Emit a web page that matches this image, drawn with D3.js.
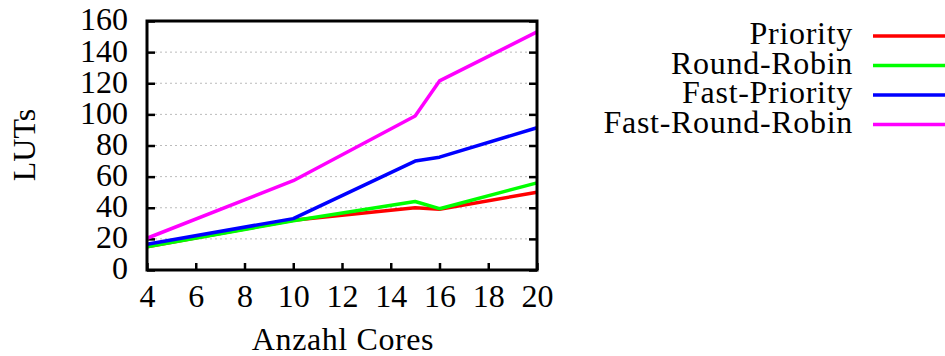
<!DOCTYPE html>
<html>
<head>
<meta charset="utf-8">
<script src="https://cdn.jsdelivr.net/npm/d3@7"></script>
<style>
  body { margin: 0; background: #fff; }
  text { font-family: "Liberation Serif", "DejaVu Serif", serif; fill: #000; }
</style>
</head>
<body>
<div id="chart"></div>
<script>
// data
var cores = [4, 10, 15, 16, 20];
var priority = [15, 32, 40, 39, 50];
var roundRobin = [15, 31.6, 44, 39.4, 56];
var fastPriority = [16.6, 33, 70, 72.5, 91.4];
var fastRoundRobin = [20.4, 57.4, 99, 121.5, 153];

var seriesNames = ["Priority", "Round-Robin", "Fast-Priority", "Fast-Round-Robin"];
var seriesColors = ["#ff0000", "#00ff00", "#0000ff", "#ff00ff"];
var seriesValues = [priority, roundRobin, fastPriority, fastRoundRobin];

var xTicks = [4, 6, 8, 10, 12, 14, 16, 18, 20];
var yTicks = [0, 20, 40, 60, 80, 100, 120, 140, 160];

var svgWidth = 945;
var svgHeight = 356;

var margin = { top: 21, right: 408, bottom: 86, left: 147 };
var width = svgWidth - margin.left - margin.right;
var height = svgHeight - margin.top - margin.bottom;

var svg = d3.select("#chart")
  .append("svg")
  .attr("width", svgWidth)
  .attr("height", svgHeight);

var chartGroup = svg.append("g")
  .attr("transform", `translate(${margin.left}, ${margin.top})`);

var xScale = d3.scaleLinear().domain([4, 20]).range([0, width]);
var yScale = d3.scaleLinear().domain([0, 160]).range([height, 0]);

// dotted grid lines
chartGroup.selectAll(".grid")
  .data(yTicks.filter(d => d > 0 && d < 160))
  .enter()
  .append("line")
  .attr("x1", 8)
  .attr("x2", width - 8)
  .attr("y1", d => yScale(d))
  .attr("y2", d => yScale(d))
  .attr("stroke", "#bbbbbb")
  .attr("stroke-width", 1)
  .attr("stroke-dasharray", "2,3");

// axes: inward ticks
var leftAxis = d3.axisLeft(yScale).tickValues(yTicks).tickSize(-8).tickPadding(19);
var rightAxis = d3.axisRight(yScale).tickValues(yTicks).tickSize(-8).tickFormat("");
var bottomAxis = d3.axisBottom(xScale).tickValues(xTicks).tickSize(-7).tickPadding(14);

var gl = chartGroup.append("g").call(leftAxis);
var gr = chartGroup.append("g").attr("transform", `translate(${width}, 0)`).call(rightAxis);
var gb = chartGroup.append("g").attr("transform", `translate(0, ${height})`).call(bottomAxis);

[gl, gr, gb].forEach(function(g) {
  g.select(".domain").remove();
  g.selectAll(".tick line").attr("stroke", "#000").attr("stroke-width", 2.5);
  g.selectAll(".tick text")
    .style("font-family", "'Liberation Serif', 'DejaVu Serif', serif")
    .style("font-size", "32px")
    .attr("fill", "#000");
});
gl.selectAll(".tick text").attr("dy", "0.28em");
gb.selectAll(".tick text").attr("dy", "0.71em");

// series lines
var line = d3.line()
  .x((d, i) => xScale(cores[i]))
  .y(d => yScale(d));

seriesValues.forEach(function(vals, k) {
  chartGroup.append("path")
    .datum(vals)
    .attr("d", line)
    .attr("fill", "none")
    .attr("stroke", seriesColors[k])
    .attr("stroke-width", 3.5)
    .attr("stroke-linejoin", "round");
});

// frame
chartGroup.append("rect")
  .attr("width", width)
  .attr("height", height)
  .attr("fill", "none")
  .attr("stroke", "#000")
  .attr("stroke-width", 3);

// axis titles
svg.append("text")
  .attr("transform", "translate(35, 145) rotate(-90)")
  .attr("text-anchor", "middle")
  .style("font-size", "32px")
  .text("LUTs");

svg.append("text")
  .attr("x", 343)
  .attr("y", 350)
  .attr("text-anchor", "middle")
  .style("font-size", "32px")
  .style("letter-spacing", "0.6px")
  .text("Anzahl Cores");

// legend
var legend = svg.append("g").attr("transform", "translate(853, 36)");
seriesNames.forEach(function(name, k) {
  legend.append("text")
    .attr("x", 0)
    .attr("y", k * 29.5)
    .attr("dy", "0.26em")
    .attr("text-anchor", "end")
    .style("font-size", "32px")
    .style("letter-spacing", "0.7px")
    .text(name);
  legend.append("line")
    .attr("x1", 20)
    .attr("x2", 92)
    .attr("y1", k * 29.5)
    .attr("y2", k * 29.5)
    .attr("stroke", seriesColors[k])
    .attr("stroke-width", 3.5);
});
</script>
</body>
</html>
